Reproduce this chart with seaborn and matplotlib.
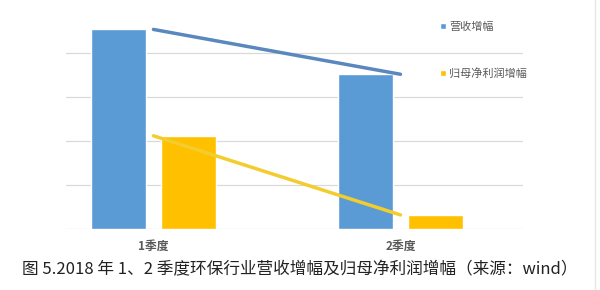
import matplotlib
matplotlib.use("Agg")
import matplotlib.pyplot as plt
import seaborn as sns
import pandas as pd
from matplotlib.lines import Line2D

# Data (grid step = 5 units)
quarters = ["1季度", "2季度"]
revenue_growth = [22.7, 17.6]      # 营收增幅
profit_growth = [10.6, 1.6]        # 归母净利润增幅
series_names = ["营收增幅", "归母净利润增幅"]
caption = "图 5.2018 年 1、2 季度环保行业营收增幅及归母净利润增幅（来源：wind）"

df = pd.DataFrame({
    "季度": quarters * 2,
    "指标": [series_names[0]] * 2 + [series_names[1]] * 2,
    "值": revenue_growth + profit_growth,
})

sns.set_theme(style="white")
plt.rcParams['font.family'] = ['Noto Sans CJK SC', 'DejaVu Sans']

bar_colors = ["#5B9BD5", "#FFC000"]
line_colors = ["#5A87BE", "#F3CD2E"]

fig = plt.figure(figsize=(6, 2.9), dpi=100)
ax = fig.add_axes([66/600, 61/290, (523-66)/600, (229-18)/290])

sns.barplot(data=df, x="季度", y="值", hue="指标", palette=bar_colors,
            width=0.567, gap=0.214, ax=ax, legend=True, saturation=1)

for name, col in zip(series_names, line_colors):
    sub = df[df["指标"] == name]
    sns.pointplot(data=sub, x="季度", y="值", color=col, markers="",
                  linewidth=2.5, ax=ax, errorbar=None)

ax.set_xlim(-0.354, 1.496)
ax.set_ylim(0, 24)
ax.set_yticks([0, 5, 10, 15, 20])
ax.yaxis.grid(True, color="#d9d9d9", linewidth=0.9)
ax.set_axisbelow(True)
ax.tick_params(axis="y", left=False, labelleft=False)
ax.tick_params(axis="x", length=0, pad=8)
for lab in ax.get_xticklabels():
    lab.set_fontsize(8.5)
    lab.set_fontweight("bold")
    lab.set_color("#595959")
ax.set_xlabel("")
ax.set_ylabel("")
for s in ax.spines.values():
    s.set_visible(False)

handles, labels = ax.get_legend_handles_labels()
ax.legend(handles[:2], labels[:2], loc="upper left",
          bbox_to_anchor=(440/600, 1-22/290), bbox_transform=fig.transFigure,
          frameon=False, fontsize=8, labelcolor="#595959",
          handlelength=0.5, handleheight=0.5, handletextpad=0.3,
          labelspacing=3.2, borderpad=0, borderaxespad=0)

fig.text(22/600, 1-270/290, caption, va="center", ha="left",
         fontsize=12, color="#222222")

fig.add_artist(Line2D([595/600, 595/600], [0, 1], color="#e6e6e6",
                      linewidth=1, transform=fig.transFigure))

fig.savefig("out.png", dpi=100)
